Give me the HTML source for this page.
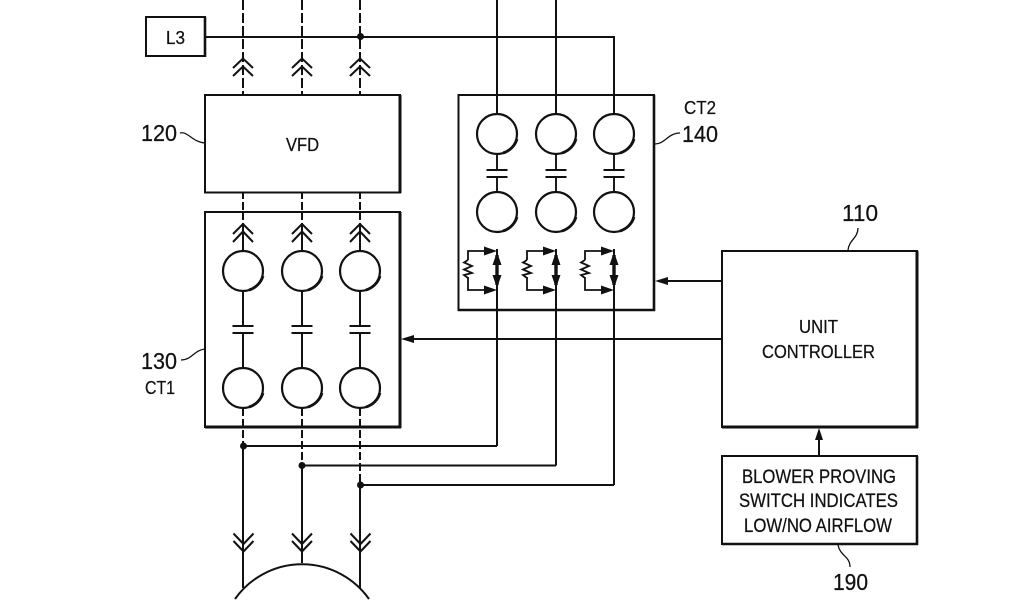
<!DOCTYPE html>
<html>
<head>
<meta charset="utf-8">
<style>
html,body{margin:0;padding:0;background:#fff;width:1024px;height:600px;overflow:hidden}
svg{display:block;overflow:hidden}
text{font-family:"Liberation Sans",sans-serif;fill:#111;stroke:#111;stroke-width:.25;text-anchor:start}
</style>
</head>
<body>
<svg width="1024" height="600" viewBox="0 0 1024 600" xmlns="http://www.w3.org/2000/svg">
<defs>
<g id="ct2col">
  <path d="M0 0V39M0 154V310" fill="none" stroke="#111" stroke-width="2"/>
  <circle cx="0" cy="39" r="20" fill="#fff" stroke="#111" stroke-width="2.2"/>
  <path d="M6 58A20.500 20.500 0 0 0 20 44" fill="none" stroke="#111" stroke-width="2.800"/>
  <circle cx="0" cy="117" r="20" fill="#fff" stroke="#111" stroke-width="2.2"/>
  <path d="M6 136A20.500 20.500 0 0 0 20 122" fill="none" stroke="#111" stroke-width="2.800"/>
  <path d="M0 59V75M0 82V97M-10.500 75H10.500M-10.500 82H10.500" fill="none" stroke="#111" stroke-width="1.900"/>
  <path d="M-29 165V156H-12M-29 182V195H-12" fill="none" stroke="#111" stroke-width="1.800"/>
  <path d="M-29 165L-33 167.500L-25 171L-33 174.500L-25 178L-33 180L-29 183" fill="none" stroke="#111" stroke-width="1.800"/>
  <path d="M-13 151.500L0 156L-13 160.500ZM-13 190.500L0 195L-13 199.500Z" fill="#111"/>
  <path d="M0 160V190" stroke="#111" stroke-width="3.400" fill="none"/>
  <path d="M0 157L-4.500 170H4.500ZM0 193L-4.500 180H4.500Z" fill="#111"/>
</g>
<g id="ct1col">
  <path d="M0 12V39M0 79V114M0 121V155" fill="none" stroke="#111" stroke-width="2"/>
  <path d="M-10 22L0 12L10 22M-10 30L0 19.500L10 30" fill="none" stroke="#111" stroke-width="2"/>
  <circle cx="0" cy="59" r="20" fill="#fff" stroke="#111" stroke-width="2.2"/>
  <path d="M6 78A20.500 20.500 0 0 0 20 64" fill="none" stroke="#111" stroke-width="2.800"/>
  <path d="M-10.500 114H10.500M-10.500 121H10.500" fill="none" stroke="#111" stroke-width="1.900"/>
  <circle cx="0" cy="176" r="20" fill="#fff" stroke="#111" stroke-width="2.2"/>
  <path d="M6 195A20.500 20.500 0 0 0 20 181" fill="none" stroke="#111" stroke-width="2.800"/>
</g>
<g id="upchev">
  <path d="M0 0V95" fill="none" stroke="#111" stroke-width="2" stroke-dasharray="10 3"/>
  <path d="M-10 68L0 58.500L10 68M-10 76L0 66.500L10 76" fill="none" stroke="#111" stroke-width="2"/>
</g>
<g id="downchev">
  <path d="M-10 533.500L0 544L10 533.500M-10 541L0 551.500L10 541" fill="none" stroke="#111" stroke-width="2"/>
</g>
</defs>

<!-- Top dashed lines -->
<use href="#upchev" x="243"/>
<use href="#upchev" x="302"/>
<use href="#upchev" x="360"/>

<!-- L3 -->
<rect x="146" y="17" width="59" height="39" fill="#fff" stroke="#111" stroke-width="2"/>
<path d="M205 57V17" stroke="#111" stroke-width="2.600"/>
<text x="166" y="44" font-size="18" textLength="19" lengthAdjust="spacingAndGlyphs">L3</text>
<path d="M205 37H614V95" fill="none" stroke="#111" stroke-width="2"/>
<circle cx="360.500" cy="36.500" r="3.500" fill="#111"/>
<path d="M497 0V95M556 0V95" stroke="#111" stroke-width="2" fill="none"/>

<!-- VFD -->
<rect x="205" y="95" width="195" height="97.500" fill="#fff" stroke="#111" stroke-width="2"/>
<path d="M400 95V193" stroke="#111" stroke-width="3"/>
<text x="286" y="151" font-size="18" textLength="33" lengthAdjust="spacingAndGlyphs">VFD</text>
<text x="141" y="141" font-size="23" textLength="36" lengthAdjust="spacingAndGlyphs">120</text>
<path d="M180 133C188 131 192 142 205 143" fill="none" stroke="#111" stroke-width="1.300"/>

<!-- between VFD and CT1 -->
<path d="M243 193V212M302 193V212M360 193V212" stroke="#111" stroke-width="2" stroke-dasharray="6 3" fill="none"/>

<!-- CT1 -->
<rect x="205" y="212" width="195" height="215" fill="#fff" stroke="#111" stroke-width="2"/>
<path d="M400 212V428M205 427H401" stroke="#111" stroke-width="3" fill="none"/>
<path d="M243 203V224M302 203V224M360 203V224" stroke="#111" stroke-width="2" stroke-dasharray="7 3"/>
<use href="#ct1col" x="243" y="212"/>
<use href="#ct1col" x="302" y="212"/>
<use href="#ct1col" x="360" y="212"/>
<text x="141" y="369" font-size="23" textLength="36" lengthAdjust="spacingAndGlyphs">130</text>
<text x="145" y="394" font-size="18" textLength="30" lengthAdjust="spacingAndGlyphs">CT1</text>
<path d="M181 360C192 360 194 350 205 349" fill="none" stroke="#111" stroke-width="1.300"/>

<!-- Below CT1 -->
<path d="M243 408V446M302 408V465M360 408V485" stroke="#111" stroke-width="2" stroke-dasharray="8 3" fill="none"/>
<path d="M243 446V588M302 465V563M360 485V588" stroke="#111" stroke-width="2" fill="none"/>
<path d="M243 446H497M302 465.500H556M360 485H614" stroke="#111" stroke-width="2" fill="none"/>
<circle cx="243.500" cy="446" r="3.500" fill="#111"/>
<circle cx="302" cy="465.500" r="3.500" fill="#111"/>
<circle cx="360.500" cy="485" r="3.500" fill="#111"/>
<use href="#downchev" x="243.500"/>
<use href="#downchev" x="302"/>
<use href="#downchev" x="360.500"/>
<path d="M235 599A82 82 0 0 1 369 599" fill="none" stroke="#111" stroke-width="2"/>

<!-- CT2 -->
<rect x="458.500" y="95" width="195.500" height="215" fill="#fff" stroke="#111" stroke-width="2"/>
<path d="M654 95V311M458 310H655" stroke="#111" stroke-width="2.600" fill="none"/>
<use href="#ct2col" x="497" y="95"/>
<use href="#ct2col" x="556" y="95"/>
<use href="#ct2col" x="614" y="95"/>
<path d="M497 310V446M556 310V465.500M614 310V485" stroke="#111" stroke-width="2" fill="none"/>
<text x="684" y="114" font-size="18" textLength="32" lengthAdjust="spacingAndGlyphs">CT2</text>
<text x="682" y="142" font-size="23" textLength="36" lengthAdjust="spacingAndGlyphs">140</text>
<path d="M655 144C665 144 668 133 680 133" fill="none" stroke="#111" stroke-width="1.300"/>

<!-- Unit controller -->
<rect x="722" y="251" width="195" height="176" fill="#fff" stroke="#111" stroke-width="2"/>
<path d="M917 251V428M722 427H918" stroke="#111" stroke-width="3" fill="none"/>
<text x="799" y="333" font-size="18" textLength="39" lengthAdjust="spacingAndGlyphs">UNIT</text>
<text x="762" y="358" font-size="18" textLength="113" lengthAdjust="spacingAndGlyphs">CONTROLLER</text>
<text x="842" y="221" font-size="23" textLength="36" lengthAdjust="spacingAndGlyphs">110</text>
<path d="M848 250C849 240 858 238 858 228" fill="none" stroke="#111" stroke-width="1.300"/>

<path d="M722 281H668M722 339H414" stroke="#111" stroke-width="2" fill="none"/>
<path d="M655 281L668 277V285ZM401 339L414 335V343Z" fill="#111"/>

<!-- Blower -->
<rect x="722" y="456" width="195" height="88" fill="#fff" stroke="#111" stroke-width="2"/>
<path d="M917 456V545M722 544H918" stroke="#111" stroke-width="2.600" fill="none"/>
<path d="M819 456V438" stroke="#111" stroke-width="2"/>
<path d="M819 428L815 440H823Z" fill="#111"/>
<text x="742" y="483" font-size="19" textLength="154" lengthAdjust="spacingAndGlyphs">BLOWER PROVING</text>
<text x="739" y="507" font-size="19" textLength="159" lengthAdjust="spacingAndGlyphs">SWITCH INDICATES</text>
<text x="744" y="532" font-size="19" textLength="148" lengthAdjust="spacingAndGlyphs">LOW/NO AIRFLOW</text>
<text x="833" y="590" font-size="23" textLength="35" lengthAdjust="spacingAndGlyphs">190</text>
<path d="M838 545C840 556 850 556 850 567" fill="none" stroke="#111" stroke-width="1.300"/>
</svg>
</body>
</html>
